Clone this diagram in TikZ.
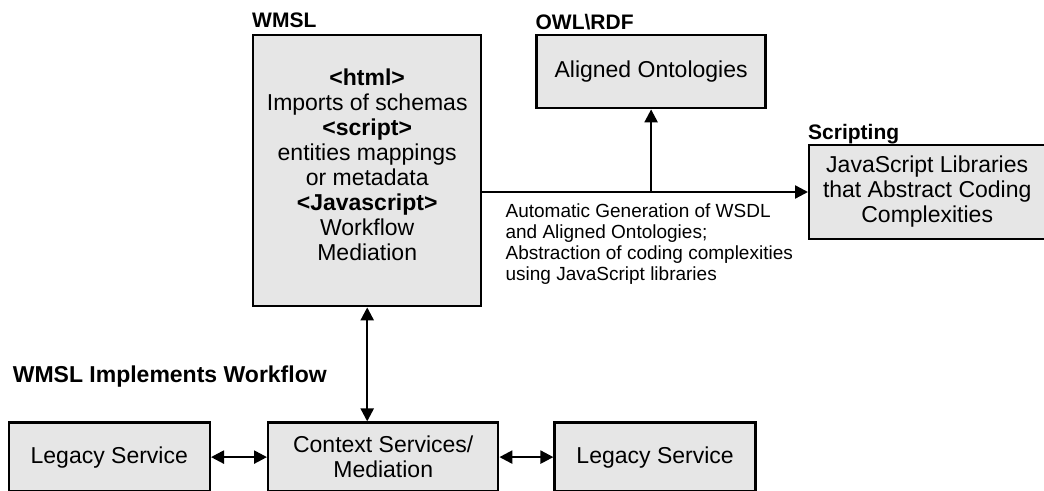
\documentclass[tikz,border=0pt]{standalone}
\usepackage{fontspec}
\setmainfont{Liberation Sans}
\usetikzlibrary{positioning,arrows.meta}
\definecolor{boxgray}{RGB}{230,230,230}
\newcommand{\boxfont}{\fontsize{23bp}{25bp}\selectfont}
\newcommand{\lblfont}{\fontsize{21bp}{24bp}\selectfont\bfseries}
\newcommand{\biglblfont}{\fontsize{23bp}{26bp}\selectfont\bfseries}
\newcommand{\notefont}{\fontsize{19bp}{21bp}\selectfont}
\tikzstyle{block} = [rectangle, draw=black, fill=boxgray, line width=2.4bp, text centered, align=center, font=\boxfont]
\tikzstyle{lbl} = [font=\lblfont, inner sep=0pt]
\tikzstyle{note} = [font=\notefont, align=left, inner sep=0pt]
\tikzstyle{arrow} = [line width=2.4bp, -{Triangle[length=13bp,width=13bp]}]
\tikzstyle{biarrow} = [line width=2.4bp, {Triangle[length=13bp,width=13bp]}-{Triangle[length=13bp,width=13bp]}]

\begin{document}
\begin{tikzpicture}[x=1bp, y=1bp]
	\useasboundingbox (0,0) rectangle (1044,491);
	
	\node (wmsl) [block, minimum width=228bp, minimum height=271bp, anchor=north west] at (252,457) {\textbf{<html>}\\ Imports of schemas\\ \textbf{<script>}\\ entities mappings\\ or metadata\\ \textbf{<Javascript>}\\ Workflow\\ Mediation\\[-12bp]};
	
	\node (onto) [block, minimum width=229bp, minimum height=73bp, right=53bp of wmsl.north east, anchor=north west] {Aligned Ontologies};
	
	\node (script) [block, minimum width=236bp, minimum height=94bp, anchor=west] at (808,299) {JavaScript Libraries\\ that Abstract Coding\\ Complexities};
	
	\node (ctx) [block, minimum width=230bp, minimum height=69bp, below=114bp of wmsl.south west, anchor=north west, xshift=15bp] {Context Services/\\ Mediation};
	
	\node (leg1) [block, minimum width=201bp, minimum height=69bp, left=56bp of ctx] {Legacy Service};
	
	\node (leg2) [block, minimum width=201bp, minimum height=69bp, right=54bp of ctx] {Legacy Service};
	
	% titles over the blocks
	\node (wmsllbl) [lbl, above=6.5bp of wmsl.north west, anchor=base west] {WMSL};
	\node (ontolbl) [lbl, above=4.5bp of onto.north west, anchor=base west] {OWL\textbackslash RDF};
	\node (scriptlbl) [lbl, above=4.5bp of script.north west, anchor=base west] {Scripting};
	\node (impl) [lbl, font=\biglblfont, above=39bp of leg1.north west, anchor=base west, xshift=5bp] {WMSL Implements Workflow};
	
	\coordinate (start) at (wmsl.east |- script.west);
	\coordinate (fork) at (onto.south |- script.west);
	
	\node (note) [note, below right=12bp and 23bp of start, anchor=north west] {Automatic Generation of WSDL\\ and Aligned Ontologies;\\ Abstraction of coding complexities\\ using JavaScript libraries};
	
	\draw[arrow] (start) -- (script.west);
	\draw[arrow] (fork) -- (onto.south);
	\draw[biarrow] (wmsl.south) -- (wmsl.south |- ctx.north);
	\draw[biarrow] (leg1.east) -- (ctx.west);
	\draw[biarrow] (ctx.east) -- (leg2.west);
	
\end{tikzpicture}
\end{document}
